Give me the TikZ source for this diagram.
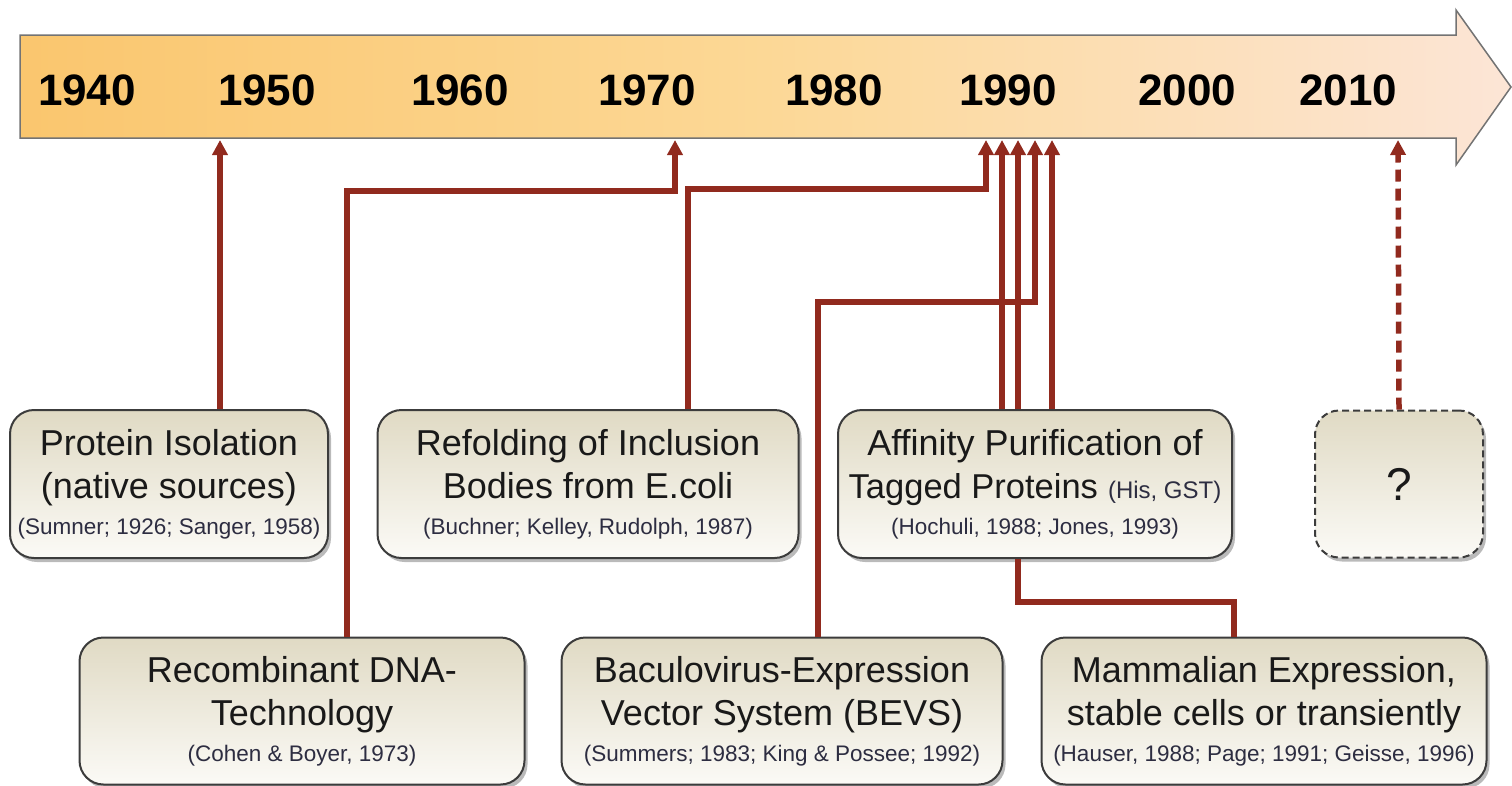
\documentclass[tikz,border=0pt]{standalone}
\usepackage{fontspec}
\setmainfont{Liberation Sans}
\usetikzlibrary{arrows.meta,shadows,calc}
\definecolor{conncol}{RGB}{145,42,30}
\definecolor{boxtop}{RGB}{224,218,196}
\definecolor{boxbot}{RGB}{251,250,246}
\definecolor{boxedge}{RGB}{60,60,60}
\definecolor{reftext}{RGB}{45,45,65}
\definecolor{barleft}{RGB}{250,198,110}
\definecolor{barmid}{RGB}{252,216,150}
\definecolor{barright}{RGB}{252,229,214}
\newcommand{\tf}{\fontsize{36}{43}\selectfont}
\newcommand{\rf}{\fontsize{22.5}{29}\selectfont\color{reftext}}
\newcommand{\mf}{\fontsize{24}{43}\selectfont\color{reftext}}
\newcommand{\rl}{\\[-7pt]}
\tikzset{
  evbox/.style={draw=boxedge, line width=2pt, rounded corners=24pt,
    top color=boxtop, bottom color=boxbot, align=center, inner sep=0pt,
    drop shadow={shadow xshift=3pt, shadow yshift=-4pt, opacity=0.45, fill=black!60},
    font=\tf, text=black!90},
  conn/.style={draw=conncol, line width=5.5pt, -{Triangle[length=15pt,width=15pt]}},
  link/.style={draw=conncol, line width=5.5pt},
  year/.style={font=\fontsize{44}{44}\selectfont\bfseries, inner sep=0pt, text=black}
}
\begin{document}
\begin{tikzpicture}[x=1pt,y=-1pt]
\useasboundingbox (0,0) rectangle (1512,785);
% timeline arrow
\path[draw=black!55, line width=1.5pt, left color=barleft, right color=barright, middle color=barmid]
  (20,35) -- (1456,35) -- (1456,10) -- (1511,87) -- (1456,165) -- (1456,138) -- (20,138) -- cycle;
\foreach \yr/\xx in {1940/87,1950/267,1960/460,1970/647,1980/834,1990/1008,2000/1187,2010/1348}
  \node[year] (y\yr) at (\xx,90) {\yr};
% bar anchor points
\coordinate (b1) at (220,140);
\coordinate (b2) at (675,140);
\coordinate (b3) at (986,140);
\coordinate (b4) at (1002,140);
\coordinate (b5) at (1018,140);
\coordinate (b6) at (1035,140);
\coordinate (b7) at (1052,140);
\coordinate (b8) at (1398,140);
% boxes
\node[evbox, minimum width=318pt, minimum height=148pt] (iso) at (169,484)
  {Protein Isolation\\(native sources)\rl{\rf (Sumner; 1926; Sanger, 1958)}};
\node[evbox, minimum width=421pt, minimum height=148pt] (ref) at (588,484)
  {Refolding of Inclusion\\Bodies from E.coli\rl{\rf (Buchner; Kelley, Rudolph, 1987)}};
\node[evbox, minimum width=394pt, minimum height=148pt] (aff) at (1035,484)
  {Affinity Purification of\\{\fontsize{34.5}{43}\selectfont Tagged Proteins} {\mf (His, GST)}\rl{\rf (Hochuli, 1988; Jones, 1993)}};
\node[evbox, dashed, dash pattern=on 7pt off 4pt, minimum width=168pt, minimum height=147pt, font=\fontsize{46}{46}\selectfont] (q) at (1399,484) {?};
\node[evbox, minimum width=445pt, minimum height=147pt] (rec) at (302,711)
  {Recombinant DNA-\\Technology\rl{\rf (Cohen \& Boyer, 1973)}};
\node[evbox, minimum width=441pt, minimum height=147pt] (bac) at (782,711)
  {Baculovirus-Expression\\Vector System (BEVS)\rl{\rf (Summers; 1983; King \& Possee; 1992)}};
\node[evbox, minimum width=445pt, minimum height=147pt] (mam) at (1264,711)
  {Mammalian Expression,\\stable cells or transiently\rl{\rf (Hauser, 1988; Page; 1991; Geisse, 1996)}};
% connectors
\draw[conn] (iso.north -| b1) -- (b1);
\draw[conn] ([xshift=45pt]rec.north) |- ($(b2)+(0,51)$) -- (b2);
\draw[conn] ([xshift=100pt]ref.north) |- ($(b3)+(0,49)$) -- (b3);
\draw[conn] ([xshift=36pt]bac.north) |- ($(b6)+(0,162)$) -- (b6);
\draw[conn] (aff.north -| b4) -- (b4);
\draw[conn] (aff.north -| b5) -- (b5);
\draw[conn] (aff.north -| b7) -- (b7);
\draw[link] (aff.south -| b5) -- ++(0,43) -| ([xshift=-30pt]mam.north);
\draw[conn, dash pattern=on 12pt off 7pt] (q.north) -- (b8);
\end{tikzpicture}
\end{document}
